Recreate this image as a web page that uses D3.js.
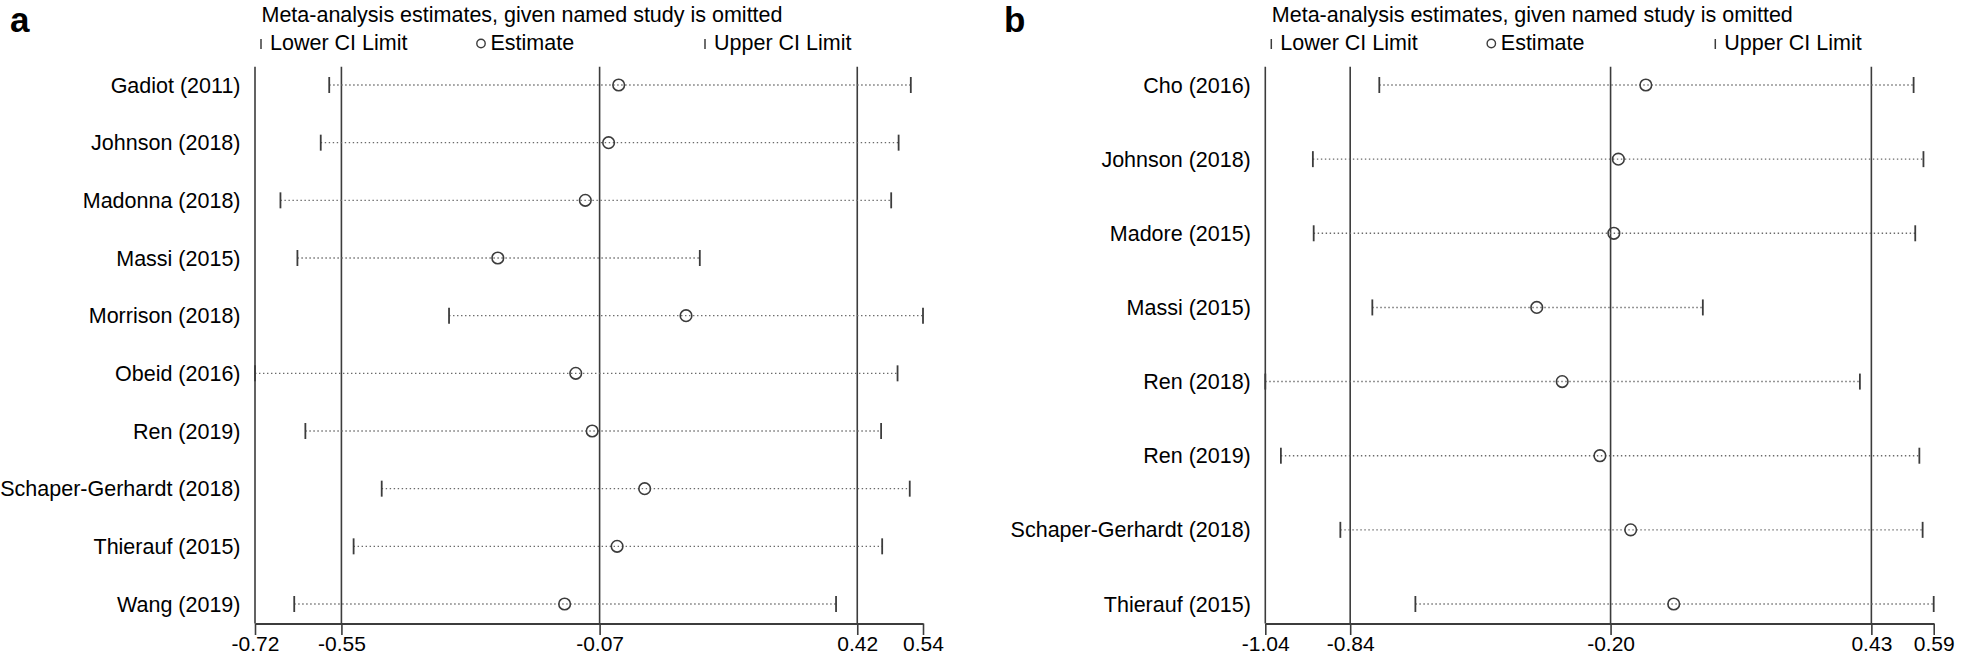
<!DOCTYPE html>
<html>
<head>
<meta charset="utf-8">
<script src="https://cdn.jsdelivr.net/npm/d3@7"></script>
<style>
    body { margin: 0; background: #ffffff; }
    svg { display: block; font-family: "Liberation Sans", Arial, sans-serif; }
</style>
</head>
<body>
<svg id="chart" width="1961" height="656"></svg>
<script>
//influence analysis, two panels, one row per omitted study

// ---- panel a ----
var studiesA = ["Gadiot (2011)", "Johnson (2018)", "Madonna (2018)", "Massi (2015)", "Morrison (2018)",
    "Obeid (2016)", "Ren (2019)", "Schaper-Gerhardt (2018)", "Thierauf (2015)", "Wang (2019)"];
var estimateA = [-0.034, -0.053, -0.097, -0.262, 0.093, -0.115, -0.084, 0.015, -0.037, -0.136];
var lowerA = [-0.580, -0.596, -0.672, -0.640, -0.354, -0.720, -0.625, -0.481, -0.534, -0.646];
var upperA = [0.517, 0.494, 0.480, 0.119, 0.540, 0.492, 0.461, 0.515, 0.463, 0.376];
var tickValuesA = [-0.72, -0.557, -0.07, 0.416, 0.54];
var tickLabelsA = ["-0.72", "-0.55", "-0.07", "0.42", "0.54"];
var refLinesA = [-0.557, -0.07, 0.416];

// ---- panel b ----
var studiesB = ["Cho (2016)", "Johnson (2018)", "Madore (2015)", "Massi (2015)", "Ren (2018)",
    "Ren (2019)", "Schaper-Gerhardt (2018)", "Thierauf (2015)"];
var estimateB = [-0.112, -0.179, -0.190, -0.378, -0.316, -0.224, -0.149, -0.044];
var lowerB = [-0.762, -0.924, -0.922, -0.779, -1.040, -1.002, -0.857, -0.674];
var upperB = [0.541, 0.565, 0.545, 0.027, 0.410, 0.555, 0.563, 0.590];
var tickValuesB = [-1.04, -0.833, -0.198, 0.438, 0.59];
var tickLabelsB = ["-1.04", "-0.84", "-0.20", "0.43", "0.59"];
var refLinesB = [-0.833, -0.198, 0.438];

var title = "Meta-analysis estimates, given named study is omitted";

var lineColor = "#3c3c3c";
var dotColor = "#6a6a6a";
var fontSize = "21.5px";

var plotTop = 66.7;
var axisY = 623.5;
var tickLen = 11.5;
var rowTop = 85;
var rowBottom = 604;

var svg = d3.select("#chart");

function drawPanel(opts) {
    var g = svg.append("g");

    var x = d3.scaleLinear()
        .domain([opts.ticks[0], opts.ticks[opts.ticks.length - 1]])
        .range([opts.left, opts.left + opts.width]);
    var y = d3.scalePoint()
        .domain(opts.studies)
        .range([rowTop, rowBottom]);

    //panel letter
    g.append("text")
        .attr("x", opts.letterX)
        .attr("y", 32)
        .attr("font-size", opts.letterSize)
        .attr("font-weight", "bold")
        .text(opts.letter);

    //title + legend
    var x0 = x.range()[0];
    g.append("text")
        .attr("x", x0 + 6.5)
        .attr("y", 21.5)
        .attr("font-size", fontSize)
        .text(title);

    var legY = 50;
    g.append("line")
        .attr("x1", x0 + 6).attr("x2", x0 + 6)
        .attr("y1", legY - 11).attr("y2", legY - 1)
        .attr("stroke", lineColor).attr("stroke-width", 1.5);
    g.append("text")
        .attr("x", x0 + 15).attr("y", legY)
        .attr("font-size", fontSize)
        .text("Lower CI Limit");
    g.append("circle")
        .attr("cx", x0 + 226).attr("cy", legY - 6.5).attr("r", 4.2)
        .attr("fill", "none")
        .attr("stroke", lineColor).attr("stroke-width", 1.4);
    g.append("text")
        .attr("x", x0 + 235.5).attr("y", legY)
        .attr("font-size", fontSize)
        .text("Estimate");
    g.append("line")
        .attr("x1", x0 + 450).attr("x2", x0 + 450)
        .attr("y1", legY - 11).attr("y2", legY - 1)
        .attr("stroke", lineColor).attr("stroke-width", 1.5);
    g.append("text")
        .attr("x", x0 + 459).attr("y", legY)
        .attr("font-size", fontSize)
        .text("Upper CI Limit");

    //left border line + reference lines (they run down into the ticks)
    var vlines = [opts.ticks[0]].concat(opts.refs);
    g.selectAll(".vline")
        .data(vlines)
        .enter()
        .append("line")
        .attr("class", "vline")
        .attr("x1", function(d) { return x(d); })
        .attr("x2", function(d) { return x(d); })
        .attr("y1", plotTop)
        .attr("y2", axisY)
        .attr("stroke", lineColor)
        .attr("stroke-width", 1.6);

    //bottom axis - labels sit right on the bottom edge like the original
    var axis = d3.axisBottom(x)
        .tickValues(opts.ticks)
        .tickFormat(function(d, i) { return opts.tickLabels[i]; })
        .tickSizeInner(tickLen)
        .tickSizeOuter(0)
        .tickPadding(1.5);
    var ag = g.append("g")
        .attr("transform", "translate(0," + axisY + ")")
        .call(axis);
    ag.select(".domain")
        .attr("stroke", lineColor)
        .attr("stroke-width", 2);
    ag.selectAll(".tick line")
        .attr("stroke", lineColor)
        .attr("stroke-width", 1.6);
    ag.selectAll(".tick text")
        .attr("font-family", "Liberation Sans, Arial, sans-serif")
        .attr("font-size", "21px")
        .attr("fill", "#000")
        .attr("dy", "0.71em");

    //study labels
    g.selectAll(".lab")
        .data(opts.studies)
        .enter()
        .append("text")
        .attr("class", "lab")
        .attr("x", x0 - 14.5)
        .attr("y", function(d) { return y(d) + 7.5; })
        .attr("text-anchor", "end")
        .attr("font-size", fontSize)
        .text(function(d) { return d; });

    var rows = opts.studies.map(function(s, i) {
        return {study: s, est: opts.est[i], lo: opts.lower[i], hi: opts.upper[i]};
    });

    //dotted CI lines
    g.selectAll(".ci")
        .data(rows)
        .enter()
        .append("line")
        .attr("class", "ci")
        .attr("x1", function(d) { return x(d.lo); })
        .attr("x2", function(d) { return x(d.hi); })
        .attr("y1", function(d) { return y(d.study); })
        .attr("y2", function(d) { return y(d.study); })
        .attr("stroke", dotColor)
        .attr("stroke-width", 1.4)
        .attr("stroke-dasharray", "1.4,2.6");

    //lower and upper caps
    ["lo", "hi"].forEach(function(k) {
        g.selectAll(".cap-" + k)
            .data(rows)
            .enter()
            .append("line")
            .attr("class", "cap-" + k)
            .attr("x1", function(d) { return x(d[k]); })
            .attr("x2", function(d) { return x(d[k]); })
            .attr("y1", function(d) { return y(d.study) - 8; })
            .attr("y2", function(d) { return y(d.study) + 8; })
            .attr("stroke", lineColor)
            .attr("stroke-width", 1.8);
    });

    //estimate circles
    g.selectAll(".est")
        .data(rows)
        .enter()
        .append("circle")
        .attr("class", "est")
        .attr("cx", function(d) { return x(d.est); })
        .attr("cy", function(d) { return y(d.study); })
        .attr("r", 5.8)
        .attr("fill", "none")
        .attr("stroke", lineColor)
        .attr("stroke-width", 1.6);
}

drawPanel({
    letter: "a", letterX: 10, letterSize: "35px",
    left: 255, width: 668,
    studies: studiesA, est: estimateA, lower: lowerA, upper: upperA,
    ticks: tickValuesA, tickLabels: tickLabelsA, refs: refLinesA
});

drawPanel({
    letter: "b", letterX: 1004, letterSize: "35px",
    left: 1265.3, width: 668.4,
    studies: studiesB, est: estimateB, lower: lowerB, upper: upperB,
    ticks: tickValuesB, tickLabels: tickLabelsB, refs: refLinesB
});
</script>
</body>
</html>
